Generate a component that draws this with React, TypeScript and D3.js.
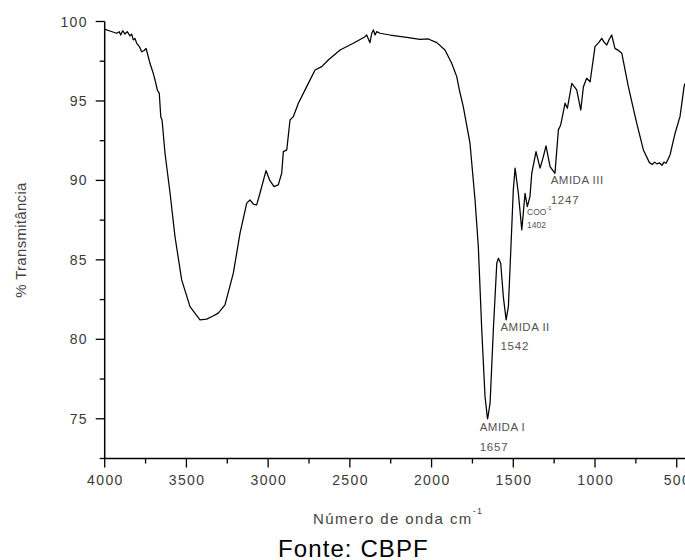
import React from "react";
import * as d3 from "d3";

const wavenumbers: number[] = [
  3998, 3968, 3927, 3911, 3902, 3890, 3876, 3862, 3845, 3835, 3825, 3815, 3804, 3788, 3774, 3760, 3747, 3739,
  3723, 3703, 3692, 3678, 3666, 3657, 3649, 3631, 3600, 3570, 3529, 3478, 3417, 3376, 3340, 3305, 3264, 3213,
  3172, 3131, 3111, 3090, 3070, 3050, 3013, 2990, 2964, 2938, 2917, 2907, 2886, 2866, 2846, 2815, 2764, 2713,
  2672, 2632, 2560, 2479, 2407, 2397, 2377, 2366, 2356, 2346, 2336, 2315, 2254, 2152, 2071, 2020, 1968, 1918,
  1877, 1846, 1830, 1806, 1765, 1734, 1714, 1693, 1673, 1659, 1657, 1642, 1622, 1601, 1591, 1577, 1561, 1544,
  1530, 1510, 1500, 1489, 1469, 1448, 1428, 1414, 1398, 1387, 1361, 1336, 1316, 1300, 1275, 1245, 1224, 1210,
  1183, 1169, 1142, 1112, 1087, 1071, 1051, 1030, 1000, 975, 959, 945, 928, 912, 898, 878, 860, 836, 796, 745,
  704, 667, 650, 635, 622, 605, 590, 578, 565, 541, 510, 480, 455, 450,
];

const transmittance: number[] = [
  99.51, 99.4, 99.26, 99.36, 99.15, 99.42, 99.21, 99.36, 99.09, 99.21, 98.84, 98.94, 98.63, 98.42, 98.1, 98.16, 98.31, 98.0,
  97.37, 96.74, 96.32, 95.69, 95.48, 94.01, 93.8, 91.71, 89.19, 86.47, 83.74, 82.06, 81.23, 81.27, 81.45, 81.65, 82.17, 84.16,
  86.68, 88.57, 88.77, 88.5, 88.46, 89.19, 90.62, 90.0, 89.61, 89.72, 90.45, 91.81, 91.92, 93.8, 94.01, 94.86, 95.9, 96.95,
  97.16, 97.58, 98.21, 98.63, 99.04, 99.15, 98.67, 99.26, 99.47, 99.15, 99.36, 99.26, 99.15, 99.0, 98.88, 98.9, 98.67, 98.21,
  97.37, 96.53, 95.69, 94.64, 92.34, 88.77, 85.84, 80.6, 76.4, 75.1, 75.0, 75.99, 80.6, 84.79, 85.1, 84.79, 82.69, 81.23,
  82.06, 86.89, 89.4, 90.77, 89.19, 86.89, 89.19, 88.35, 88.98, 90.45, 91.81, 90.77, 91.5, 92.17, 90.87, 90.45, 93.18, 93.49,
  94.86, 94.54, 96.11, 95.69, 94.43, 95.9, 96.43, 96.21, 98.42, 98.7, 98.94, 98.7, 98.52, 98.9, 99.15, 98.31, 98.2, 98.0, 95.9, 93.6,
  91.92, 91.12, 91.0, 91.15, 91.04, 91.1, 90.95, 91.15, 91.08, 91.6, 92.97, 94.01, 95.9, 96.1,
];

const xMajorTicks: number[] = [4000, 3500, 3000, 2500, 2000, 1500, 1000, 500];
const xMinorTicks: number[] = [3750, 3250, 2750, 2250, 1750, 1250, 750];
const yMajorTicks: number[] = [75, 80, 85, 90, 95, 100];
const yMinorTicks: number[] = [72.5, 77.5, 82.5, 87.5, 92.5, 97.5];

const peakLabels: string[] = ["AMIDA I", "AMIDA II", "AMIDA III"];
const peakNumbers: string[] = ["1657", "1542", "1247"];
const peakPositions: number[] = [1657, 1542, 1247];
const peakValues: number[] = [75.0, 81.2, 90.4];

const FONT = "'Liberation Sans', Arial, sans-serif";

export default function App() {
  const left = 104.7;
  const right = 684.9;
  const top = 21.5;
  const bottom = 458.5;

  const x = d3.scaleLinear().domain([4000, 450]).range([left, right]);
  const y = d3.scaleLinear().domain([72.5, 100]).range([bottom, top]);

  const points: [number, number][] = wavenumbers.map((w, i) => [w, transmittance[i]]);
  const line = d3
    .line<[number, number]>()
    .x((d) => x(d[0]))
    .y((d) => y(d[1]));

  const tickColor = "#3a3a3a";
  const annColor = "#555";

  const annOffsets: { dx: number; dy1: number; dy2: number }[] = [
    { dx: -8, dy1: 8, dy2: 28 },
    { dx: -6, dy1: 7, dy2: 26 },
    { dx: -4, dy1: 6, dy2: 26 },
  ];

  return (
    <svg
      width={685}
      height={560}
      style={{ position: "absolute", left: 0, top: 0, background: "#fff" }}
      fontFamily={FONT}
    >
      <rect x={0} y={0} width={685} height={560} fill="#fff" />
      <line x1={left} x2={left} y1={top} y2={bottom} stroke="#000" strokeWidth={1.5} />
      <line x1={left} x2={685} y1={bottom} y2={bottom} stroke="#000" strokeWidth={1.5} />
      {yMajorTicks.map((t) => (
        <g key={"ym" + t}>
          <line x1={left - 9} x2={left} y1={y(t)} y2={y(t)} stroke="#000" strokeWidth={1.3} />
          <text
            x={88}
            y={y(t)}
            dominantBaseline="central"
            textAnchor="end"
            fontSize={14}
            letterSpacing={1.4}
            fill={tickColor}
          >
            {t}
          </text>
        </g>
      ))}
      {yMinorTicks.map((t) => (
        <line key={"yn" + t} x1={left - 5} x2={left} y1={y(t)} y2={y(t)} stroke="#000" strokeWidth={1.3} />
      ))}
      {xMajorTicks.map((t) => (
        <g key={"xm" + t}>
          <line x1={x(t)} x2={x(t)} y1={bottom} y2={bottom + 9} stroke="#000" strokeWidth={1.3} />
          <text
            x={x(t) + 0.7}
            y={480}
            dominantBaseline="central"
            textAnchor="middle"
            fontSize={14}
            letterSpacing={1.4}
            fill={tickColor}
          >
            {t}
          </text>
        </g>
      ))}
      {xMinorTicks.map((t) => (
        <line key={"xn" + t} x1={x(t)} x2={x(t)} y1={bottom} y2={bottom + 5} stroke="#000" strokeWidth={1.3} />
      ))}

      <path d={line(points) || ""} fill="none" stroke="#000" strokeWidth={1.25} strokeLinejoin="round" />

      {peakLabels.map((lab, i) => {
        const px = x(peakPositions[i]) + annOffsets[i].dx;
        const py = y(peakValues[i]);
        return (
          <g key={lab}>
            <text x={px} y={py + annOffsets[i].dy1} dominantBaseline="central" fontSize={11.5} letterSpacing={0.5} fill={annColor}>
              {lab}
            </text>
            <text x={px} y={py + annOffsets[i].dy2} dominantBaseline="central" fontSize={11.5} letterSpacing={0.8} fill={annColor}>
              {peakNumbers[i]}
            </text>
          </g>
        );
      })}
      <text x={527} y={212} dominantBaseline="central" fontSize={8.5} fill={annColor}>
        COO
        <tspan dy={-4} fontSize={6}>
          -1
        </tspan>
      </text>
      <text x={527} y={225} dominantBaseline="central" fontSize={8.5} fill={annColor}>
        1402
      </text>

      <text
        transform={`translate(20.5, ${(top + bottom) / 2}) rotate(-90)`}
        textAnchor="middle"
        dominantBaseline="central"
        fontSize={15}
        letterSpacing={0.3}
        fill="#444"
      >
        % Transmitância
      </text>
      <text x={313} y={518} dominantBaseline="central" fontSize={15} letterSpacing={1.4} fill="#444">
        Número de onda cm
        <tspan dy={-7} fontSize={9}>
          -1
        </tspan>
      </text>
      <text x={278} y={548} dominantBaseline="central" fontSize={24} letterSpacing={1.1} fill="#000">
        Fonte: CBPF
      </text>
    </svg>
  );
}
